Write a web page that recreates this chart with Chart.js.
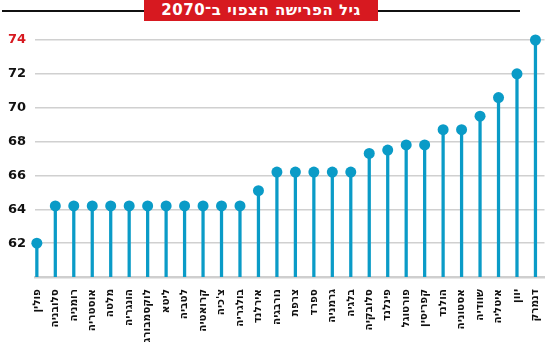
<!DOCTYPE html>
<html>
<head>
<meta charset="utf-8">
<script src="https://cdn.jsdelivr.net/npm/chart.js@4/dist/chart.umd.min.js"></script>
<style>
  body { margin: 0; background: #fff; }
  #wrap { position: relative; width: 550px; height: 344px; }
  #rule { position: absolute; left: 2px; top: 10px; width: 518px; height: 2px; background: #111; }
  #title {
    position: absolute; left: 144px; top: 0; width: 234px; height: 21px;
    background: #d71920; color: #fff; direction: rtl; text-align: center;
    font: bold 15px "DejaVu Sans", sans-serif; line-height: 21px; letter-spacing: 0.5px;
  }
  canvas { position: absolute; left: 0; top: 0; }
</style>
</head>
<body>
<div id="wrap">
  <canvas id="retireChart" width="550" height="344"></canvas>
  <div id="rule"></div>
  <div id="title">גיל הפרישה הצפוי ב־2070</div>
</div>
<script>
/* countries and expected retirement age */
const countries = [
  'פולין', 'סלובניה', 'רומניה', 'אוסטריה', 'מלטה', 'הונגריה', 'לוקסמבורג',
  'ליטא', 'לטביה', 'קרואטיה', "צ'כיה", 'בולגריה', 'אירלנד', 'נורבגיה',
  'צרפת', 'ספרד', 'גרמניה', 'בלגיה', 'סלובקיה', 'פינלנד', 'פורטוגל',
  'קפריסין', 'הולנד', 'אסטוניה', 'שוודיה', 'איטליה', 'יוון', 'דנמרק'
];
const ages = [
  62, 64.2, 64.2, 64.2, 64.2, 64.2, 64.2,
  64.2, 64.2, 64.2, 64.2, 64.2, 65.1, 66.2,
  66.2, 66.2, 66.2, 66.2, 67.3, 67.5, 67.8,
  67.8, 68.7, 68.7, 69.5, 70.6, 72, 74
];
const yTicks = [62, 64, 66, 68, 70, 72, 74];

const blue = '#0a9bc7';
const points = ages.map((v, i) => ({ x: i, y: v }));

/*chart config*/
const config = {
  data: {
    datasets: [
      {
        type: 'line',
        data: points,
        showLine: false,
        clip: false,
        pointRadius: 5.5,
        pointHoverRadius: 5.5,
        pointBackgroundColor: blue,
        pointBorderWidth: 0,
        order: 0
      },
      {
        type: 'bar',
        data: points,
        backgroundColor: blue,
        barThickness: 2.6,
        order: 1
      }
    ]
  },
  options: {
    responsive: false,
    animation: false,
    layout: { padding: { top: 40, right: 0, left: 0, bottom: 0 } },
    plugins: { legend: { display: false }, tooltip: { enabled: false } },
    scales: {
      x: {
        type: 'linear',
        offset: false,
        min: -0.1,
        max: 27.49,
        afterBuildTicks: scale => { scale.ticks = countries.map((c, i) => ({ value: i })); },
        afterFit: scale => {
          scale.height = 67;
          scale.paddingLeft = 0;
          scale.paddingRight = 0;
        },
        ticks: {
          autoSkip: false,
          minRotation: 90,
          maxRotation: 90,
          padding: 4,
          color: '#111',
          font: { family: 'DejaVu Sans', size: 10.5, weight: 'bold' },
          callback: v => countries[v]
        },
        grid: { display: false, offset: false },
        border: { display: true, color: '#cfcfcf', width: 2.5 }
      },
      y: {
        min: 60,
        max: 74,
        afterBuildTicks: scale => { scale.ticks = yTicks.map(v => ({ value: v })); },
        afterFit: scale => { scale.width = 35; },
        ticks: {
          padding: 9,
          color: ctx => ctx.tick.value === 74 ? '#d71920' : '#111',
          font: { family: 'DejaVu Sans', size: 13, weight: 'bold' }
        },
        grid: { color: '#d0d0d0', lineWidth: 1.5, drawTicks: false },
        border: { display: false }
      }
    }
  }
};

new Chart(document.getElementById('retireChart'), config);
</script>
</body>
</html>
